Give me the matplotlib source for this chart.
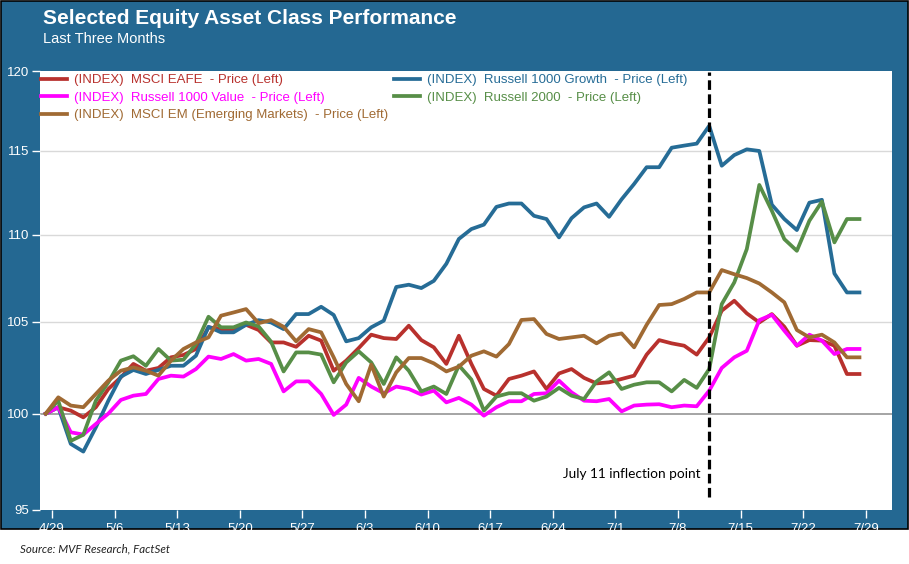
import numpy as np
import pandas as pd
import matplotlib
matplotlib.use("Agg")
import matplotlib.pyplot as plt
from matplotlib.patches import Rectangle
from matplotlib.ticker import FixedLocator, NullLocator, FuncFormatter
from matplotlib import font_manager

# Weekdays shown on the chart (indexed to 100 at the first close)
dates = pd.bdate_range("2024-04-26", "2024-07-26")

eafe = [100.0, 100.34, 100.16, 99.8, 100.34, 101.32, 101.95, 102.68, 102.31, 102.46,
        103.04, 103.17, 103.5, 104.7, 104.6, 104.6, 104.84, 104.55, 103.86, 103.86,
        103.62, 104.23, 103.96, 102.31, 102.86, 103.55, 104.29, 104.1, 104.05, 104.79,
        103.99, 103.59, 102.68, 104.23, 102.68, 101.32, 100.96, 101.86, 102.04, 102.27,
        101.32, 102.16, 102.4, 101.92, 101.62, 101.68, 101.86, 102.04, 103.19, 103.99,
        103.81, 103.68, 103.19, 104.14, 105.63, 106.19, 105.48, 104.97, 105.44, 104.73,
        103.68, 103.99, 103.96, 103.68, 102.13, 102.13]

r1000_growth = [100.0, 100.34, 98.4, 98.0, 99.27, 100.69, 101.99, 102.35, 102.13, 102.35,
                102.58, 102.58, 103.13, 104.73, 104.42, 104.42, 104.84, 105.1, 104.97, 104.6,
                105.44, 105.44, 105.85, 105.39, 103.92, 104.1, 104.7, 105.07, 106.97, 107.1,
                106.91, 107.32, 108.3, 109.74, 110.32, 110.58, 111.63, 111.83, 111.83, 111.1,
                110.91, 109.83, 110.96, 111.6, 111.83, 111.04, 112.08, 113.0, 114.01, 114.01,
                115.2, 115.33, 115.45, 116.55, 114.1, 114.75, 115.1, 115.0, 111.76, 110.91,
                110.26, 111.88, 112.05, 107.74, 106.66, 106.66]

r1000_value = [100.0, 100.34, 99.01, 98.89, 99.45, 100.0, 100.73, 100.96, 101.05, 101.86,
               102.04, 101.99, 102.4, 103.08, 102.95, 103.22, 102.86, 102.95, 102.68, 101.19,
               101.73, 101.73, 101.05, 99.93, 100.48, 101.92, 101.45, 101.09, 101.45, 101.32,
               101.02, 101.23, 100.6, 100.84, 100.48, 99.89, 100.34, 100.66, 100.66, 101.05,
               101.09, 101.77, 101.14, 100.69, 100.66, 100.78, 100.12, 100.43, 100.48, 100.5,
               100.34, 100.43, 100.39, 101.23, 102.46, 103.04, 103.4, 105.1, 105.4, 104.51,
               103.68, 104.29, 103.96, 103.22, 103.5, 103.5]

r2000 = [100.0, 100.69, 98.56, 98.88, 100.69, 101.68, 102.86, 103.1, 102.58, 103.5,
         102.86, 102.91, 103.77, 105.29, 104.7, 104.7, 104.97, 104.75, 103.9, 102.27,
         103.31, 103.31, 103.19, 101.68, 102.76, 103.37, 102.76, 101.59, 103.04, 102.31,
         101.19, 101.45, 101.05, 102.6, 101.83, 100.16, 100.91, 101.09, 101.09, 100.69,
         100.91, 101.38, 100.96, 100.78, 101.73, 102.22, 101.32, 101.55, 101.68, 101.68,
         101.19, 101.81, 101.38, 102.4, 106.0, 107.23, 109.15, 112.94, 111.4, 109.73,
         109.05, 110.81, 111.94, 109.54, 110.91, 110.91]

msci_em = [100.0, 100.87, 100.43, 100.34, 101.05, 101.77, 102.31, 102.49, 102.31, 102.04,
           102.86, 103.5, 103.86, 104.14, 105.35, 105.53, 105.72, 104.93, 105.1, 104.73,
           103.92, 104.6, 104.42, 103.04, 101.59, 100.66, 102.64, 100.91, 102.22, 103.0,
           103.0, 102.71, 102.27, 102.53, 103.13, 103.37, 103.08, 103.77, 105.11, 105.16,
           104.33, 104.05, 104.14, 104.23, 103.81, 104.23, 104.36, 103.59, 104.84, 105.95,
           106.0, 106.29, 106.66, 106.66, 107.94, 107.7, 107.48, 107.17, 106.66, 106.1,
           104.55, 104.14, 104.29, 103.86, 103.04, 103.04]

labels = ["(INDEX)  MSCI EAFE  - Price (Left)",
          "(INDEX)  Russell 1000 Growth  - Price (Left)",
          "(INDEX)  Russell 1000 Value  - Price (Left)",
          "(INDEX)  Russell 2000  - Price (Left)",
          "(INDEX)  MSCI EM (Emerging Markets)  - Price (Left)"]
colors = ["#B8312D", "#266C96", "#FF00FF", "#578E47", "#A06A33"]
values = [eafe, r1000_growth, r1000_value, r2000, msci_em]

yticks = [95, 100, 105, 110, 115, 120]
tick_dates = pd.date_range("2024-04-29", "2024-07-29", freq="7D")

BLUE = "#246892"
installed = {f.name for f in font_manager.fontManager.ttflist}
narrow = "Liberation Sans Narrow" if "Liberation Sans Narrow" in installed else "Liberation Sans"
narrow_size = 10.5 if narrow == "Liberation Sans Narrow" else 9.5

fig = plt.figure(figsize=(9.09, 5.64), dpi=100)
W, H = 909, 564

# dark blue frame behind the chart
fig.add_artist(Rectangle((0.001, 1 - 529 / H), 0.998, 529 / H - 0.002,
                         transform=fig.transFigure, facecolor=BLUE,
                         edgecolor="black", lw=1.2, zorder=-1))

ax = fig.add_axes([39.5 / W, 1 - 510 / H, (892 - 39.5) / W, (510 - 71) / H])
ax.set_facecolor("white")

x = np.arange(len(dates))
handles = []
for lab, vals, col in zip(labels, values, colors):
    h, = ax.plot(x, vals, color=col, lw=2.7, label=lab, zorder=3)
    handles.append(h)

ax.set_yscale("log")
ax.set_ylim(95, 120)
ax.set_xlim(-0.5, 67.6)
ax.yaxis.set_major_locator(FixedLocator(yticks))
ax.yaxis.set_minor_locator(NullLocator())
ax.yaxis.set_major_formatter(FuncFormatter(lambda v, p: f"{v:.0f}"))

# weekly ticks on the boundary before each Monday
tick_pos = np.searchsorted(dates, tick_dates) - 0.5
ax.set_xticks(tick_pos)
ax.set_xticklabels([f"{d.month}/{d.day}" for d in tick_dates])
ax.xaxis.set_minor_locator(NullLocator())

for v in yticks[2:-1]:
    ax.axhline(v, color="#D9D9D9", lw=1, zorder=1)
ax.axhline(100, color="#8C8C8C", lw=1.1, zorder=1)

for s in ax.spines.values():
    s.set_visible(False)

ax.tick_params(axis="both", colors="white", direction="out", length=6, width=1)
ax.tick_params(axis="y", pad=1.5)
ax.tick_params(axis="x", pad=3)
for lbl in ax.get_xticklabels() + ax.get_yticklabels():
    lbl.set_family(narrow)
    lbl.set_fontsize(narrow_size)
    lbl.set_color("white")

# inflection line (drawn at the close before the July 11 jump)
infl = list(dates).index(pd.Timestamp("2024-07-10"))
ax.axvline(infl, ymin=0.03, ymax=0.997, color="black", lw=2.3,
           linestyle=(0, (3, 1.4)), zorder=4)
ax.text(infl - 0.7, 96.85, "July 11 inflection point", ha="right", va="center",
        fontsize=9.8, family="Lato", color="black")

# legend in two columns
prop = dict(family="Liberation Sans", size=9.5)
opts = dict(loc="upper left", bbox_transform=fig.transFigure, frameon=False, prop=prop,
            handlelength=2.0, handletextpad=0.5, labelspacing=0.4,
            borderpad=0, borderaxespad=0, labelcolor="linecolor")
leg1 = ax.legend([handles[0], handles[2], handles[4]], [labels[0], labels[2], labels[4]],
                 bbox_to_anchor=(41 / W, 1 - 74 / H), **opts)
ax.add_artist(leg1)
ax.legend([handles[1], handles[3]], [labels[1], labels[3]],
          bbox_to_anchor=(394 / W, 1 - 74 / H), **opts)

fig.text(43 / W, 1 - 24 / H, "Selected Equity Asset Class Performance", color="white",
         fontsize=15, fontweight="bold", family="Liberation Sans", va="baseline")
fig.text(43 / W, 1 - 43 / H, "Last Three Months", color="white",
         fontsize=10.5, family="Liberation Sans", va="baseline")
fig.text(20 / W, 1 - 549 / H, "Source: MVF Research, FactSet", color="#222222",
         fontsize=8.3, style="italic", family="Lato", va="center")

fig.savefig("out.png", dpi=100)
